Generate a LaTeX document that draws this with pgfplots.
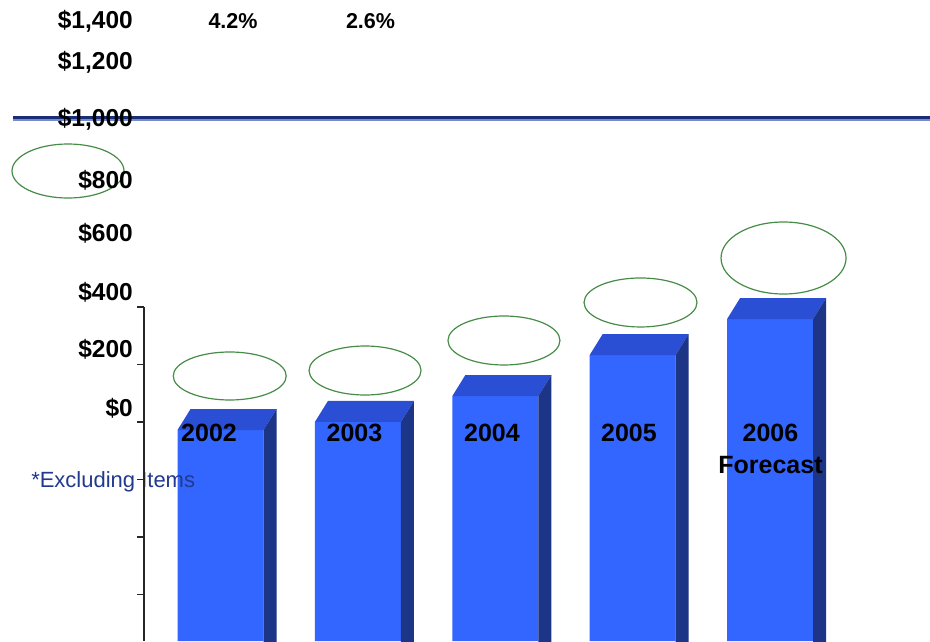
\documentclass[border=0pt]{standalone}
\usepackage{pgfplots}
\pgfplotsset{compat=1.18}
\usepackage{pgfplotstable}
\usepackage{fontspec}
\setmainfont{Liberation Sans}

\definecolor{frontblue}{RGB}{51,102,255}
\definecolor{topblue}{RGB}{43,79,212}
\definecolor{sideblue}{RGB}{29,53,135}
\definecolor{navyline}{RGB}{26,46,120}
\definecolor{lightline}{RGB}{120,140,200}
\definecolor{ovalgreen}{RGB}{70,140,70}
\definecolor{notebl}{RGB}{34,57,142}

\pgfdeclareplotmark{prism}{%
  \pgfpathmoveto{\pgfqpoint{-43pt}{0pt}}%
  \pgfpathlineto{\pgfqpoint{-30pt}{21pt}}%
  \pgfpathlineto{\pgfqpoint{56pt}{21pt}}%
  \pgfpathlineto{\pgfqpoint{43pt}{0pt}}%
  \pgfpathclose
  \pgfsetfillcolor{topblue}\pgfusepath{fill}%
  \pgfpathmoveto{\pgfqpoint{43pt}{0pt}}%
  \pgfpathlineto{\pgfqpoint{56pt}{21pt}}%
  \pgfpathlineto{\pgfqpoint{56pt}{-900pt}}%
  \pgfpathlineto{\pgfqpoint{43pt}{-900pt}}%
  \pgfpathclose
  \pgfsetfillcolor{sideblue}\pgfusepath{fill}%
}

\pgfplotstableread{
x y
0 972
1 1000
2 1090
3 1233
4 1358
}\profit

\begin{document}
\begin{tikzpicture}
\begin{axis}[
  at={(0pt,0pt)}, anchor=south west,
  scale only axis, width=930pt, height=641pt,
  xmin=-1.605, xmax=5.164, ymin=238.26, ymax=2467.8,
  axis on top=true, clip marker paths=true,
  axis line style={draw=none},
  major tick length=0pt, tick style={draw=none},
  xtick={-0.0837,0.975,1.976,2.973,4.003},
  xticklabels={2002,2003,2004,2005,{2006\\Forecast}},
  xticklabel style={align=center, anchor=north, inner sep=0pt, yshift=217pt,
    font=\bfseries\fontsize{25}{32}\selectfont},
  ytick={1048.7,1254,1452.2,1657.4,1841.7,2053.9,2250.4,2392.3},
  yticklabels={\$0,\$200,\$400,\$600,\$800,{\$1,000},{\$1,200},{\$1,400}},
  yticklabel style={anchor=east, inner sep=0pt, xshift=133pt,
    font=\bfseries\fontsize{24.5}{26}\selectfont},
]
\draw[lightline, line width=1.3pt] (axis cs:-1.51,2050.5) -- (axis cs:5.2,2050.5);
\draw[navyline, line width=3pt] (axis cs:-1.51,2057.4) -- (axis cs:5.2,2057.4);
\addplot[ybar, bar width=86pt, fill=frontblue, draw=none] table {\profit};
\addplot[only marks, mark=prism] table {\profit};
\begin{scope}[ovalgreen, line width=1.2pt]
\draw (axis cs:-1.110,1873.0) ellipse [x radius=56pt, y radius=27pt];
\draw (axis cs:0.067,1160.0) ellipse [x radius=56.5pt, y radius=24pt];
\draw (axis cs:1.052,1179.1) ellipse [x radius=56pt, y radius=24.5pt];
\draw (axis cs:2.063,1283.5) ellipse [x radius=56pt, y radius=24.5pt];
\draw (axis cs:3.057,1415.7) ellipse [x radius=56.5pt, y radius=24.5pt];
\draw (axis cs:4.098,1570.4) ellipse [x radius=62.5pt, y radius=36pt];
\end{scope}
\node[font=\bfseries\fontsize{21.5}{24}\selectfont, inner sep=0pt] at (axis cs:0.091,2393) {4.2\%};
\node[font=\bfseries\fontsize{21.5}{24}\selectfont, inner sep=0pt] at (axis cs:1.092,2394.8) {2.6\%};
\node[font=\fontsize{22}{24}\selectfont, text=notebl, anchor=west, inner sep=0pt] at (axis cs:-1.379,791) {*Excluding Items};
\end{axis}
\begin{axis}[
  at={(144pt,0pt)}, anchor=south west,
  scale only axis, width=20pt, height=334pt,
  xmin=0, xmax=1, ymin=238.26, ymax=1400,
  axis x line=none, axis y line=left,
  y axis line style={-, draw=black!85, line width=1.2pt},
  ytick={400,600,800,1000,1200,1400}, yticklabel={\mbox{}},
  tick align=outside, major tick length=7pt,
  tick style={black!85, line width=1.2pt},
]
\end{axis}
\pgfresetboundingbox
\useasboundingbox (0,0) rectangle (930pt,641pt);
\end{tikzpicture}
\end{document}
